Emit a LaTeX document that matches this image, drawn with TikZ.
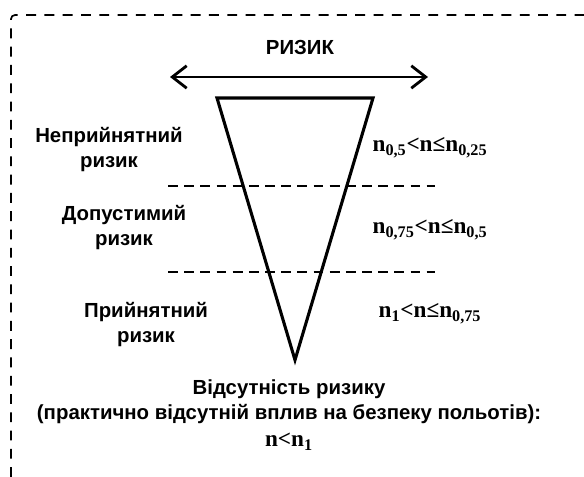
\documentclass[tikz,border=0pt]{standalone}
\usepackage{fontspec}
\setmainfont{Liberation Sans}
\newfontfamily\serifn{Liberation Serif}
\usetikzlibrary{arrows.meta}
\tikzset{
  lbl/.style={font=\fontsize{14.5}{17.7}\selectfont\bfseries, align=center, inner sep=1pt},
  rng/.style={font=\fontsize{16.5}{18}\selectfont\serifn\bfseries, inner sep=1pt},
  zone/.style={draw=black, line width=1.5pt, dash pattern=on 7pt off 4.5pt},
  frame/.style={draw=black, line width=1.2pt, dash pattern=on 7pt off 6pt},
  spread/.style={{Straight Barb[length=3.6mm, width=5.6mm, line width=2pt]}-{Straight Barb[length=3.6mm, width=5.6mm, line width=2pt]}, line width=1.4pt},
}
\newcommand{\sub}[1]{\textsubscript{#1}}

\begin{document}
\begin{tikzpicture}[x=0.025cm, y=-0.025cm]
  \useasboundingbox (0,0) rectangle (584,477);
  % outer frame
  \draw[frame] (11,477) -- (11,19) arc (180:270:4) -- (584,15);

  \node[lbl] (risk) at (300,47) {РИЗИК};
  \coordinate (arrL) at (170,77);
  \coordinate (arrR) at (428,77);
  \draw[spread] (arrL) -- (arrR);

  % triangle
  \draw[line width=2.2pt, line join=miter] (217,98) -- (373,98) -- (295,360) -- cycle;

  % zone borders
  \draw[zone] (168,186) -- (435,186);
  \draw[zone] (168,272) -- (435,272);

  \node[lbl] (unacc) at (109,149.5) {Неприйнятний\\ризик};
  \node[lbl] (toler) at (124,227.5) {Допустимий\\ризик};
  \node[lbl] (accept) at (146,324.5) {Прийнятний\\ризик};

  \node[rng] (r1) at (430,148) {n\sub{0,5}<n≤n\sub{0,25}};
  \node[rng] (r2) at (430,230) {n\sub{0,75}<n≤n\sub{0,5}};
  \node[rng] (r3) at (430,314) {n\sub{1}<n≤n\sub{0,75}};

  \node[lbl] (none) at (289,402) {Відсутність ризику\\(практично відсутній вплив на безпеку польотів):};
  \node[rng] (rnone) at (289,442) {n<n\sub{1}};
\end{tikzpicture}
\end{document}
